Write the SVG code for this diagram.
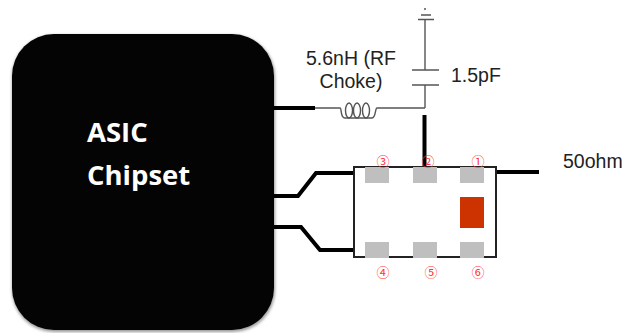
<svg xmlns="http://www.w3.org/2000/svg" width="624" height="333" viewBox="0 0 624 333">
<defs>
<filter id="sh" x="-5%" y="-5%" width="110%" height="110%"><feGaussianBlur stdDeviation="1.5"/></filter>
</defs>
<style>
text{font-family:"Liberation Sans",Arial,sans-serif;fill:#222}
.lbl{font-size:19.5px}
.asic{font-family:"Open Sans",sans-serif;font-weight:700;font-size:27.5px;fill:#fff}
.n{font-family:"Noto Sans CJK JP","DejaVu Sans",sans-serif;font-size:13px;fill:#f33;text-anchor:middle}
.thick{fill:none;stroke:#000;stroke-width:4}
.thin{fill:none;stroke:#555;stroke-width:1.4}
.pad{fill:#bfbfbf}
</style>
<rect width="624" height="333" fill="#fff"/>
<g id="asic">
<rect x="12" y="35" width="263" height="297" rx="42" fill="#999" filter="url(#sh)"/>
<rect x="12" y="34" width="262" height="296" rx="42" fill="#040404"/>
<text class="asic" x="87" y="142">ASIC</text>
<text class="asic" x="87" y="185">Chipset</text>
</g>
<g id="connectors">
<path class="thin" d="M315 108H340M377 108H425M425 20V70M425 85V108"/>
<path class="thin" d="M340 108C342 108 340 118 345 118H372C376 118 375 108 377 108"/>
<ellipse class="thin" cx="349" cy="110.500" rx="3.500" ry="7.500"/>
<ellipse class="thin" cx="357" cy="110.500" rx="3.500" ry="7.500"/>
<ellipse class="thin" cx="366" cy="110.500" rx="3.500" ry="7.500"/>
<path class="thin" d="M412 70H439M412 85H439M418 19.500H434M421 15H431M424 9H426"/>
<path class="thick" d="M274 108H315M424.500 115V167M274 196H298L316 173H354M274 227H301L320 250H354M495 172H539"/>
</g>
<g id="inductor-label">
<text class="lbl" x="351" y="65" text-anchor="middle">5.6nH (RF</text>
<text class="lbl" x="351" y="88" text-anchor="middle">Choke)</text>
</g>
<g id="capacitor-label"><text class="lbl" x="451" y="82">1.5pF</text></g>
<g id="port-label"><text class="lbl" x="563" y="168">50ohm</text></g>
<g id="chip">
<rect x="354" y="167" width="142" height="90" fill="#fff" stroke="#222" stroke-width="2"/>
<rect class="pad" x="365" y="167" width="24" height="16"/>
<rect class="pad" x="413" y="167" width="24" height="16"/>
<rect class="pad" x="460" y="167" width="24" height="16"/>
<rect class="pad" x="365" y="242" width="24" height="16"/>
<rect class="pad" x="413" y="242" width="24" height="16"/>
<rect class="pad" x="460" y="242" width="24" height="16"/>
<rect x="460" y="197" width="24" height="31" fill="#cc3300"/>
<text class="n" x="383" y="166">③</text>
<text class="n" x="428" y="166">②</text>
<text class="n" x="478" y="166">①</text>
<text class="n" x="383" y="277">④</text>
<text class="n" x="431" y="277">⑤</text>
<text class="n" x="478" y="277">⑥</text>
</g>
</svg>
